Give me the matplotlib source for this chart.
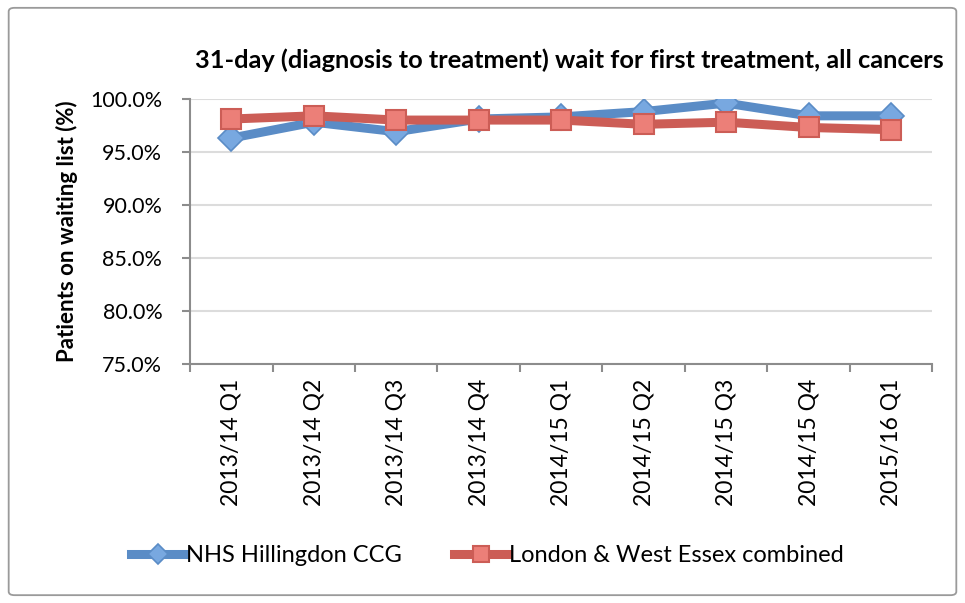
import matplotlib.pyplot as plt
from matplotlib.patches import FancyBboxPatch
from matplotlib.ticker import FuncFormatter, FixedLocator

quarters = ["2013/14 Q1", "2013/14 Q2", "2013/14 Q3", "2013/14 Q4", "2014/15 Q1",
            "2014/15 Q2", "2014/15 Q3", "2014/15 Q4", "2015/16 Q1"]
hillingdon = [96.3, 97.8, 96.9, 98.1, 98.3, 98.8, 99.6, 98.4, 98.4]
london_west_essex = [98.1, 98.4, 98.0, 98.0, 98.0, 97.6, 97.8, 97.3, 97.1]

BLUE = "#5a8cc6"
BLUE_FILL = "#78a8e0"
RED = "#cc5d56"
RED_FILL = "#ec7f78"
GRID = "#dcdcdc"
AXIS = "#8c8c8c"

plt.rcParams["font.family"] = ["Lato", "DejaVu Sans"]

fig = plt.figure(figsize=(9.65, 6.03), dpi=100)
fig.patches.append(FancyBboxPatch((0.009, 0.013), 0.982, 0.974, boxstyle="round,pad=0,rounding_size=0.006",
                                  transform=fig.transFigure, fill=False, edgecolor="#9a9a9a", linewidth=1.3))

ax = fig.add_axes([0.197, 0.397, 0.769, 0.439])
x = list(range(len(quarters)))

ax.plot(x, london_west_essex, color=RED, linewidth=6.5, marker="s", markersize=14,
        markerfacecolor=RED_FILL, markeredgecolor=RED, markeredgewidth=1.5,
        label="London & West Essex combined", zorder=3)
ax.plot(x, hillingdon, color=BLUE, linewidth=6.5, marker="D", markersize=13,
        markerfacecolor=BLUE_FILL, markeredgecolor=BLUE, markeredgewidth=1.2,
        label="NHS Hillingdon CCG", zorder=2)

ax.set_xlim(-0.5, len(quarters) - 0.5)
ax.set_ylim(75, 100)
ax.set_yticks([75, 80, 85, 90, 95, 100])
ax.yaxis.set_major_formatter(FuncFormatter(lambda v, p: f"{v:.1f}%"))
ax.yaxis.grid(True, color=GRID, linewidth=1.5)
ax.set_axisbelow(True)

ax.set_xticks(x)
ax.set_xticklabels(quarters, rotation=90, fontsize=16.5)
ax.xaxis.set_minor_locator(FixedLocator([i - 0.5 for i in range(len(quarters) + 1)]))
ax.tick_params(axis="x", which="major", length=0, pad=11)
ax.tick_params(axis="x", which="minor", length=6, color=AXIS, width=1.5)
ax.tick_params(axis="y", length=6, color=AXIS, width=1.5, labelsize=15.5, pad=14)

for side in ["top", "right"]:
    ax.spines[side].set_visible(False)
for side in ["left", "bottom"]:
    ax.spines[side].set_color(AXIS)
    ax.spines[side].set_linewidth(1.5)

ax.set_ylabel("Patients on waiting list (%)", fontsize=16, fontweight="bold", labelpad=9)
fig.text(0.59, 0.9, "31-day (diagnosis to treatment) wait for first treatment, all cancers",
         ha="center", va="center", fontsize=18.3, fontweight="bold")

handles, labels = ax.get_legend_handles_labels()
fig.legend(handles[::-1], labels[::-1], loc="center", bbox_to_anchor=(0.505, 0.078), ncol=2, frameon=False,
           fontsize=17, handlelength=2.3, handletextpad=0.05, columnspacing=2.2, markerscale=0.8)

fig.savefig("out.png", dpi=100)
